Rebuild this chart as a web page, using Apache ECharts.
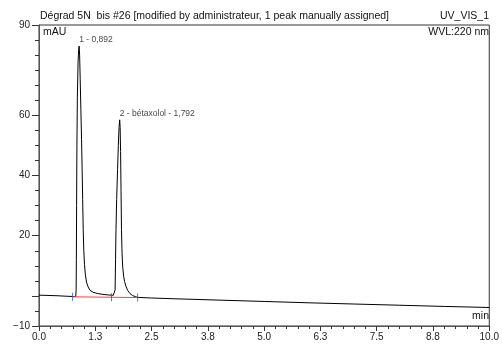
<!DOCTYPE html>
<html>
<head>
<meta charset="utf-8">
<script src="https://cdn.jsdelivr.net/npm/echarts@6/dist/echarts.min.js"></script>
<style>
  html, body { margin: 0; padding: 0; background: #fff; }
  #chart { width: 502px; height: 344px; }
</style>
</head>
<body>
<div id="chart"></div>
<script>
// retention time (min), signal (mAU)
const leadIn = [[0, 0.25], [0.2, 0.15], [0.4, 0.05], [0.6, -0.1], [0.75, -0.2], [0.815, -0.2]]
const peak1 = [[0.825, 2], [0.83, 12], [0.835, 30], [0.842, 50], [0.852, 66], [0.868, 78], [0.882, 82], [0.892, 83],
  [0.902, 80], [0.915, 72], [0.93, 62], [0.945, 52], [0.958, 42], [0.97, 32], [0.982, 22], [0.995, 15], [1.01, 10.5],
  [1.03, 7], [1.055, 4.6], [1.09, 3], [1.13, 1.9], [1.2, 1.2], [1.3, 0.8], [1.42, 0.5], [1.55, 0.3], [1.65, 0.2]]
const peak2 = [[1.68, 0.15], [1.69, 2], [1.7, 12], [1.71, 22], [1.725, 32], [1.745, 42], [1.762, 50], [1.778, 56],
  [1.792, 58.5], [1.802, 56], [1.812, 48], [1.822, 35], [1.832, 22], [1.845, 14], [1.86, 9.5], [1.88, 6.5], [1.9, 4.8],
  [1.93, 3.2], [1.97, 1.8], [2.02, 0.8], [2.08, 0.1], [2.15, -0.3], [2.2, -0.5]]
const drift = [[2.5, -0.7], [3, -0.95], [4, -1.4], [5, -1.85], [6, -2.3], [7, -2.7], [8, -3.1], [9, -3.5], [10, -3.85]]

const intBaseline = [[0.745, -0.3], [2.19, -0.55]]
const peakDelimiters = [[0.745, -0.3], [1.61, -0.45], [2.19, -0.55]]
const peakApex = [[0.892, 83], [1.792, 58.5]]
const peakLabels = ['1 - 0,892', '2 - bétaxolol - 1,792']

const xTickLabels = ['0.0', '1.3', '2.5', '3.8', '5.0', '6.3', '7.5', '8.8', '10.0']
const yLabelValues = [-10, 20, 40, 60, 90]
const yTickValues = [-10, 0, 20, 40, 60, 90]

const font = 'Liberation Sans, Arial, sans-serif'
const headFont = '10.5px ' + font
const trace = leadIn.concat(peak1, peak2, drift)

const chart = echarts.init(document.getElementById('chart'))
chart.setOption({
  animation: false,
  backgroundColor: '#fff',
  grid: {
    left: 39,
    right: 10,
    top: 25,
    bottom: 18,
    show: true,
    borderColor: '#333',
    borderWidth: 1
  },
  xAxis: {
    type: 'value',
    min: 0,
    max: 10,
    interval: 1.25,
    axisLine: { onZero: false, lineStyle: { color: '#555' } },
    axisTick: { length: 5, lineStyle: { color: '#333' } },
    minorTick: { show: true, splitNumber: 5, length: 3, lineStyle: { color: '#333' } },
    splitLine: { show: false },
    axisLabel: {
      margin: 6,
      color: '#222',
      fontSize: 10,
      fontFamily: font,
      showMaxLabel: true,
      formatter: function(v) {
        return xTickLabels[Math.round(v / 1.25)]
      }
    }
  },
  yAxis: [{
    type: 'value',
    min: -10,
    max: 90,
    interval: 10,
    axisLine: { show: true, onZero: false, lineStyle: { color: '#555' } },
    axisTick: { show: true, length: 7, customValues: yTickValues, lineStyle: { color: '#333' } },
    splitLine: { show: false },
    axisLabel: {
      margin: 9,
      color: '#222',
      fontSize: 10,
      fontFamily: font,
      customValues: yLabelValues,
      formatter: function(v) {
        return v < 0 ? '\u2212' + Math.abs(v) : String(v)
      }
    }
  }, {
    // short minor ticks every 5 mAU
    type: 'value',
    position: 'left',
    min: -10,
    max: 90,
    interval: 5,
    axisLine: { show: false },
    axisTick: { show: true, length: 4, lineStyle: { color: '#333' } },
    axisLabel: { show: false },
    splitLine: { show: false }
  }],
  graphic: [
    { type: 'text', x: 40, y: 11, style: { text: 'Dégrad 5N  bis #26 [modified by administrateur, 1 peak manually assigned]', font: headFont, fill: '#111' } },
    { type: 'text', x: 489, y: 11, style: { text: 'UV_VIS_1', font: headFont, fill: '#111', align: 'right' } },
    { type: 'text', x: 43, y: 27, style: { text: 'mAU', font: headFont, fill: '#111' } },
    { type: 'text', x: 489, y: 27, style: { text: 'WVL:220 nm', font: headFont, fill: '#111', align: 'right' } },
    { type: 'text', x: 489, y: 311, style: { text: 'min', font: headFont, fill: '#111', align: 'right' } }
  ],
  series: [{
    type: 'line',
    data: trace,
    showSymbol: false,
    sampling: false,
    lineStyle: { color: '#000', width: 1 },
    z: 3
  }, {
    type: 'line',
    data: intBaseline,
    showSymbol: false,
    lineStyle: { color: '#ff4040', width: 1 },
    z: 4
  }, {
    type: 'scatter',
    data: peakDelimiters,
    symbol: 'rect',
    symbolSize: [1, 8],
    itemStyle: { color: '#3355cc' },
    z: 5
  }, {
    type: 'scatter',
    data: peakApex.map(function(p, i) {
      return { value: p, name: peakLabels[i] }
    }),
    symbolSize: 0,
    label: {
      show: true,
      position: 'top',
      align: 'left',
      distance: 2,
      formatter: '{b}',
      fontSize: 8.5,
      fontFamily: font,
      color: '#111'
    },
    z: 6
  }]
})
</script>
</body>
</html>
